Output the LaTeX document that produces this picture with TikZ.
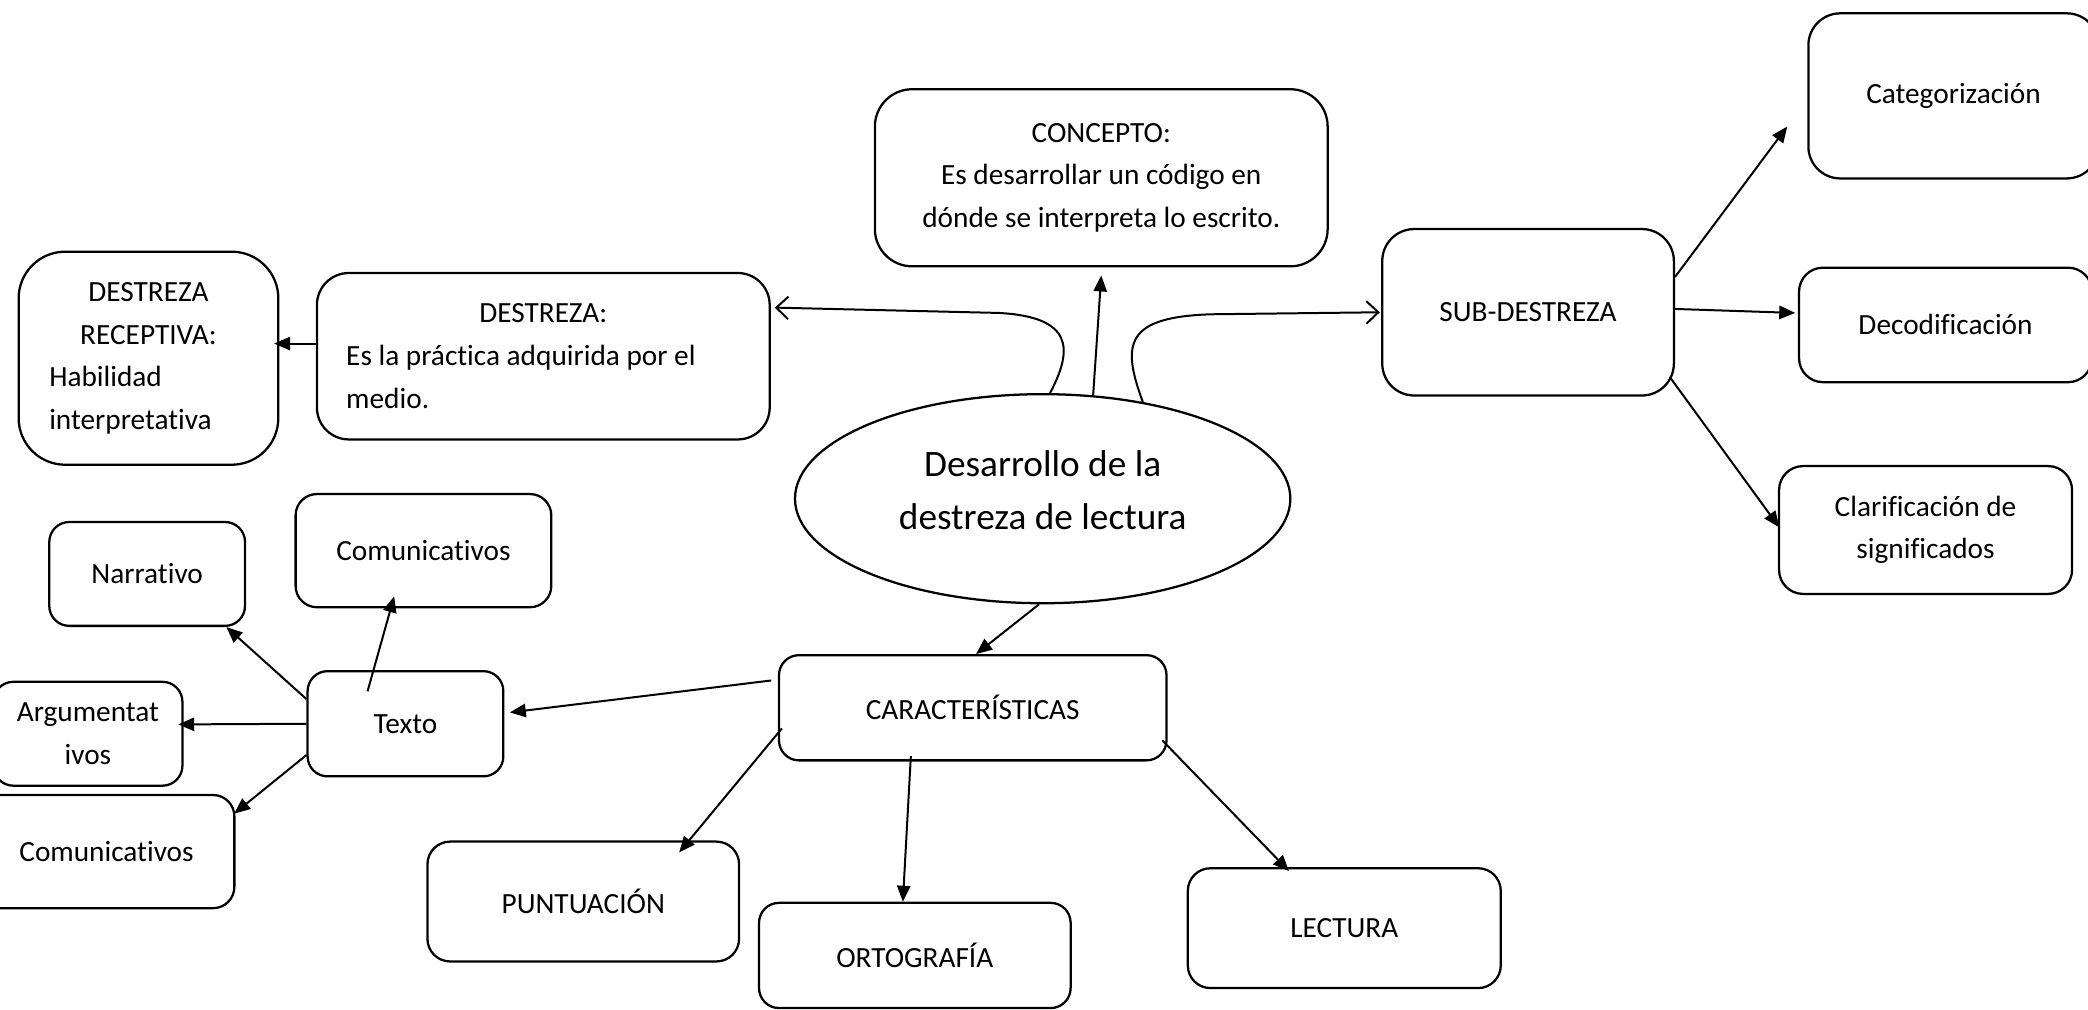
\documentclass[tikz,border=0pt]{standalone}
\usepackage{fontspec}
\setmainfont{Carlito}[Ligatures={NoCommon,NoContextual,NoRare}]
\usetikzlibrary{shapes.geometric,arrows.meta}
\begin{document}
\begin{tikzpicture}[x=1pt,y=-1pt,
  box/.style={draw, line width=1.7pt, rectangle, inner sep=0pt, font=\fontsize{22}{32}\selectfont},
  arr/.style={line width=1.5pt, -{Triangle[length=12pt,width=10pt]}},
  openarr/.style={line width=1.5pt, -{Straight Barb[length=9pt,width=17pt,line width=1.5pt]}}]
\clip (0,0) rectangle (1568,758);
\fill[white] (0,0) rectangle (1568,758);
% nodes
\node[box, rounded corners=35pt, minimum width=195pt, minimum height=160pt, align=left] (recep) at (111.5,269)
  {\makebox[149pt][c]{DESTREZA}\\\makebox[149pt][c]{RECEPTIVA:}\\Habilidad\\interpretativa};
\node[box, rounded corners=24pt, minimum width=340pt, minimum height=125pt, align=left] (destreza) at (408,267.5)
  {\makebox[296pt][c]{DESTREZA:}\\Es la práctica adquirida por el\\medio.};
\node[box, rounded corners=28pt, minimum width=340pt, minimum height=133pt, align=center] (concepto) at (827,133.5)
  {CONCEPTO:\\Es desarrollar un código en\\dónde se interpreta lo escrito.};
\node[draw, line width=1.7pt, ellipse, inner sep=0pt, minimum width=372pt, minimum height=157pt] (el) at (783,374.5) {};
\node[align=center, inner sep=0pt, font=\fontsize{28}{40}\selectfont] (eltext) at ([yshift=6.5pt]el.center)
  {Desarrollo de la\\destreza de lectura};
\node[box, rounded corners=24pt, minimum width=219pt, minimum height=125pt] (sub) at (1147.5,234.5) {SUB-DESTREZA};
\node[box, rounded corners=24pt, minimum width=218pt, minimum height=124pt] (cat) at (1467,72) {Categorización};
\node[box, rounded corners=18pt, minimum width=220pt, minimum height=86pt] (deco) at (1461,244) {Decodificación};
\node[box, rounded corners=18pt, minimum width=220pt, minimum height=96pt, align=center] (clar) at (1446,398) {Clarificación de\\significados};
\node[box, rounded corners=15pt, minimum width=291pt, minimum height=79pt] (carac) at (730.5,531.5) {CARACTERÍSTICAS};
\node[box, rounded corners=15pt, minimum width=147pt, minimum height=79pt] (texto) at (304.5,543.5) {Texto};
\node[box, rounded corners=16pt, minimum width=192pt, minimum height=85pt] (comtop) at (318,413.5) {Comunicativos};
\node[box, rounded corners=15pt, minimum width=147pt, minimum height=78pt] (narr) at (110.5,431) {Narrativo};
\node[box, rounded corners=15pt, minimum width=142pt, minimum height=78pt, align=center] (argu) at (66,551) {Argumentat\\ivos};
\node[box, rounded corners=16pt, minimum width=192pt, minimum height=85pt] (combot) at (80,639.5) {Comunicativos};
\node[box, rounded corners=17pt, minimum width=234pt, minimum height=90pt] (punt) at (438,677) {PUNTUACIÓN};
\node[box, rounded corners=15pt, minimum width=234pt, minimum height=79pt] (orto) at (687,717.5) {ORTOGRAFÍA};
\node[box, rounded corners=17pt, minimum width=235pt, minimum height=90pt] (lect) at (1009.5,697) {LECTURA};
% connectors
\draw[openarr] (el.86) .. controls (806,262) and (806,238) .. (750,235) -- ([xshift=3pt,yshift=36.5pt]destreza.east);
\draw[openarr] (el.44) .. controls (842,258) and (845,238) .. (910,236) -- ([xshift=-1pt]sub.west);
\draw[arr] (el.64) -- ([yshift=-6pt]concepto.south);
\draw[arr] ([yshift=9.5pt]destreza.west) -- ([xshift=-4pt,yshift=11pt]recep.east);
\draw[arr] ([xshift=-5pt,yshift=20.5pt]carac.west) -- ([xshift=4pt,yshift=8.5pt]texto.east);
\draw[arr] (el.-92) -- ([xshift=2.5pt]carac.north);
\draw[arr] ([xshift=3pt,yshift=-15.5pt]carac.west) -- ([xshift=72pt,yshift=-9pt]punt.north);
\draw[arr] ([xshift=-46.5pt,yshift=4pt]carac.south) -- ([xshift=-9pt]orto.north);
\draw[arr] ([xshift=-4pt,yshift=-24.5pt]carac.east) -- ([xshift=-41.5pt,yshift=-3pt]lect.north);
\draw[arr] ([yshift=18.5pt]texto.west) -- ([xshift=59.5pt]narr.south);
\draw[arr] ([xshift=-28.5pt,yshift=-16pt]texto.north) -- ([xshift=-22pt,yshift=9pt]comtop.south);
\draw[arr] (texto.west) -- ([xshift=-4pt,yshift=7pt]argu.east);
\draw[arr] ([yshift=-23.5pt]texto.west) -- ([xshift=-1pt,yshift=28.5pt]combot.east);
\draw[arr] ([yshift=26.5pt]sub.east) -- ([xshift=-15pt,yshift=-23pt]cat.west);
\draw[arr] ([yshift=2.5pt]sub.east) -- ([xshift=-2pt,yshift=9pt]deco.west);
\draw[arr] ([xshift=-4pt,yshift=-48.5pt]sub.east) -- ([xshift=1pt,yshift=2pt]clar.west);
\end{tikzpicture}
\end{document}
